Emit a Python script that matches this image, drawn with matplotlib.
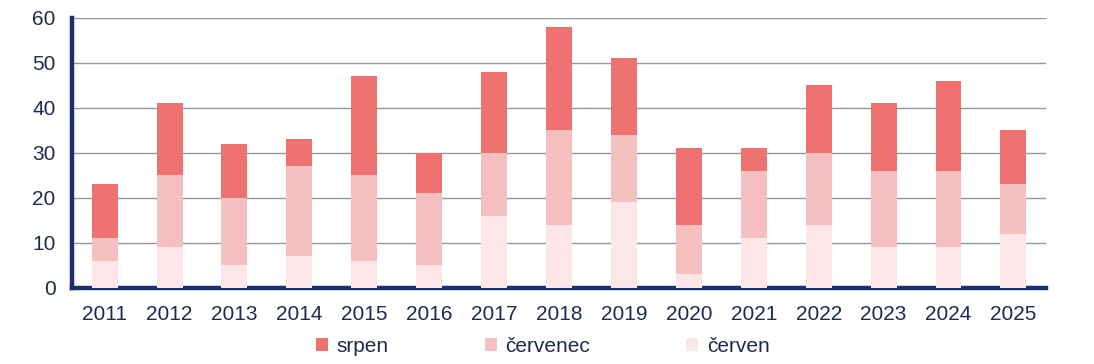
import matplotlib
matplotlib.use("Agg")
import matplotlib.pyplot as plt
import numpy as np

years = ["2011", "2012", "2013", "2014", "2015", "2016", "2017", "2018",
         "2019", "2020", "2021", "2022", "2023", "2024", "2025"]
cerven = [6, 9, 5, 7, 6, 5, 16, 14, 19, 3, 11, 14, 9, 9, 12]
cervenec = [5, 16, 15, 20, 19, 16, 14, 21, 15, 11, 15, 16, 17, 17, 11]
srpen = [12, 16, 12, 6, 22, 9, 18, 23, 17, 17, 5, 15, 15, 20, 12]

navy = "#1a2f6b"
text_col = "#1f2a50"

plt.rcParams["font.family"] = ["Liberation Sans", "DejaVu Sans"]

fig = plt.figure(figsize=(10.94, 3.64), dpi=100)
ax = fig.add_axes([0.066, 0.209, 0.890, 0.742])

x = np.arange(len(years))
w = 0.4
b1 = np.array(cerven)
b2 = b1 + np.array(cervenec)
ax.bar(x, cerven, w, color="#fce6e8", label="červen", zorder=3)
ax.bar(x, cervenec, w, bottom=b1, color="#f6bfc0", label="červenec", zorder=3)
ax.bar(x, srpen, w, bottom=b2, color="#ee7370", label="srpen", zorder=3)

ax.set_xlim(-0.5, len(years) - 0.5)
ax.set_ylim(0, 60)
ax.set_yticks(range(0, 61, 10))
ax.set_xticks(x)
ax.set_xticklabels(years)
ax.yaxis.grid(True, color="#8f98a3", linewidth=1, zorder=0)
ax.tick_params(length=0, labelsize=15, colors=text_col)
ax.tick_params(axis="y", pad=12)
ax.tick_params(axis="x", pad=12)

for s in ["top", "right"]:
    ax.spines[s].set_visible(False)
for s in ["left", "bottom"]:
    ax.spines[s].set_color(navy)
    ax.spines[s].set_linewidth(3.2)

# legend order: srpen, červenec, červen
h, l = ax.get_legend_handles_labels()
fig.legend(h[::-1], l[::-1], loc="lower center", bbox_to_anchor=(0.496, -0.03),
           ncol=3, frameon=False, fontsize=15, labelcolor=text_col,
           handlelength=0.6, handleheight=0.6, handletextpad=0.4, columnspacing=4.6)

fig.savefig("out.png", dpi=100)
